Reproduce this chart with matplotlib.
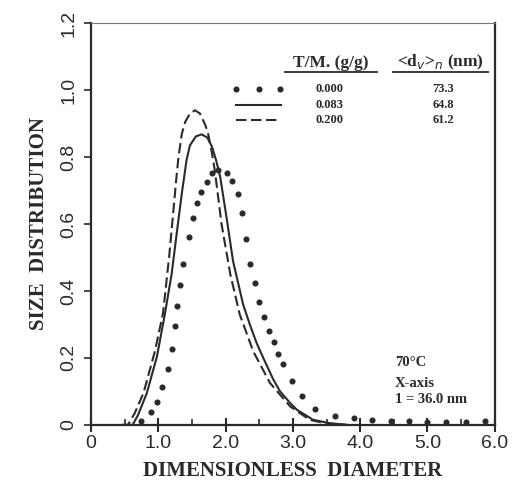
import numpy as np
import matplotlib.pyplot as plt
from matplotlib.ticker import MultipleLocator

# values
x_000 = [0.75, 0.89, 0.98, 1.06, 1.14, 1.20, 1.25, 1.28, 1.32, 1.37, 1.45, 1.51, 1.57,
         1.64, 1.72, 1.80, 1.89, 2.02, 2.09, 2.18, 2.25, 2.30, 2.37, 2.43, 2.50, 2.57,
         2.65, 2.72, 2.78, 2.86, 2.98, 3.13, 3.33, 3.63, 3.91, 4.18, 4.46, 4.73, 5.00,
         5.28, 5.57, 5.85]
y_000 = [0.010, 0.037, 0.067, 0.114, 0.167, 0.227, 0.296, 0.356, 0.417, 0.481, 0.560,
         0.619, 0.662, 0.696, 0.726, 0.751, 0.761, 0.751, 0.729, 0.690, 0.634, 0.554,
         0.481, 0.423, 0.368, 0.323, 0.281, 0.247, 0.211, 0.182, 0.132, 0.087, 0.047,
         0.025, 0.020, 0.015, 0.011, 0.010, 0.009, 0.009, 0.009, 0.010]

x_083 = [0.50, 0.62, 0.70, 0.83, 0.98, 1.10, 1.20, 1.28, 1.35, 1.42, 1.47, 1.56, 1.645,
         1.73, 1.80, 1.86, 1.92, 2.02, 2.11, 2.26, 2.36, 2.46, 2.56, 2.71, 2.81, 2.96,
         3.06, 3.30, 3.55, 3.80]
y_083 = [0.0, 0.0, 0.03, 0.095, 0.204, 0.333, 0.453, 0.582, 0.692, 0.791, 0.835, 0.862,
         0.868, 0.858, 0.830, 0.790, 0.741, 0.612, 0.49, 0.36, 0.30, 0.245, 0.20, 0.135,
         0.10, 0.065, 0.045, 0.015, 0.005, 0.0]

x_200 = [0.45, 0.55, 0.65, 0.78, 0.95, 1.07, 1.16, 1.22, 1.27, 1.30, 1.35, 1.40, 1.47,
         1.545, 1.62, 1.70, 1.74, 1.79, 1.84, 1.94, 2.07, 2.21, 2.41, 2.66, 2.96, 3.25,
         3.50, 3.80]
y_200 = [0.0, 0.0, 0.035, 0.095, 0.22, 0.333, 0.50, 0.63, 0.74, 0.80, 0.87, 0.905, 0.93,
         0.94, 0.93, 0.895, 0.87, 0.82, 0.76, 0.60, 0.45, 0.33, 0.22, 0.125, 0.055, 0.015,
         0.004, 0.0]

ratios = ['0.000', '0.083', '0.200']
diams = ['73.3', '64.8', '61.2']
xticks = [0, 1, 2, 3, 4, 5, 6]
xtick_labels = ['0', '1.0', '2.0', '3.0', '4.0', '5.0', '6.0']
yticks = [0, 0.2, 0.4, 0.6, 0.8, 1.0, 1.2]
ytick_labels = ['0', '0.2', '0.4', '0.6', '0.8', '1.0', '1.2']

fig = plt.figure(figsize=(5.17, 4.94), dpi=100)
ax = fig.add_axes([0.176, 0.140, 0.781, 0.813])
ink = '#2a2a2a'

ax.plot(x_000, y_000, 'o', color=ink, ms=4.4, mec='none')
ax.plot(x_083, y_083, '-', color=ink, lw=1.5)
ax.plot(x_200, y_200, '--', color=ink, lw=1.5, dashes=(5, 2.2))

ax.set_xlim(0, 6.0)
ax.set_ylim(0, 1.2)
ax.set_xticks(xticks)
ax.set_xticklabels(xtick_labels, family='Liberation Sans', fontsize=14)
ax.xaxis.set_minor_locator(MultipleLocator(0.5))
ax.set_yticks(yticks)
ax.set_yticklabels(ytick_labels, family='Liberation Sans', fontsize=14,
                   rotation=90, va='center')
ax.tick_params(axis='x', which='major', direction='inout', length=10, width=1.5, colors=ink, pad=2)
ax.tick_params(axis='x', which='minor', direction='in', length=4, width=1.2, colors=ink)
ax.tick_params(axis='y', which='major', direction='out', length=5, width=1.2, colors=ink, pad=5)
for s in ['left', 'bottom', 'right']:
    ax.spines[s].set_linewidth(1.6)
    ax.spines[s].set_color(ink)
ax.spines['top'].set_linewidth(0.8)
ax.spines['top'].set_color('#777777')

ax.set_xlabel('DIMENSIONLESS  DIAMETER', family='Liberation Serif', fontweight='bold',
              fontsize=15, color=ink, labelpad=7)
ax.set_ylabel('SIZE  DISTRIBUTION', family='Liberation Serif', fontweight='bold',
              fontsize=15, color=ink, labelpad=8)

# legend table
tf = dict(family='Liberation Serif', fontweight='bold', color=ink)
ax.text(3.56, 1.082, 'T/M. (g/g)', ha='center', va='center', fontsize=12.5, **tf)
ax.text(5.19, 1.082, r'<d$_v$>$_n$ (nm)', ha='center', va='center', fontsize=12.5, **tf)
ax.plot([2.88, 4.25], [1.053, 1.053], color=ink, lw=1.3)
ax.plot([4.49, 5.90], [1.053, 1.053], color=ink, lw=1.3)
rows_y = [1.002, 0.955, 0.910]
ax.plot([2.16, 2.49, 2.81], [rows_y[0]] * 3, 'o', color=ink, ms=4.4, mec='none')
ax.plot([2.16, 2.83], [rows_y[1]] * 2, '-', color=ink, lw=1.5)
ax.plot([2.16, 2.83], [rows_y[2]] * 2, '--', color=ink, lw=1.5, dashes=(5, 2.2))
for yy, r, d in zip(rows_y, ratios, diams):
    ax.text(3.55, yy, r, ha='center', va='center', fontsize=9, **tf)
    ax.text(5.23, yy, d, ha='center', va='center', fontsize=9, **tf)

ax.text(4.52, 0.185, '70°C', ha='left', va='center', fontsize=10.5, **tf)
ax.text(4.52, 0.125, 'X-axis', ha='left', va='center', fontsize=10.5, **tf)
ax.text(4.52, 0.075, '1 = 36.0 nm', ha='left', va='center', fontsize=10.5, **tf)

fig.savefig('out.png', dpi=100)
